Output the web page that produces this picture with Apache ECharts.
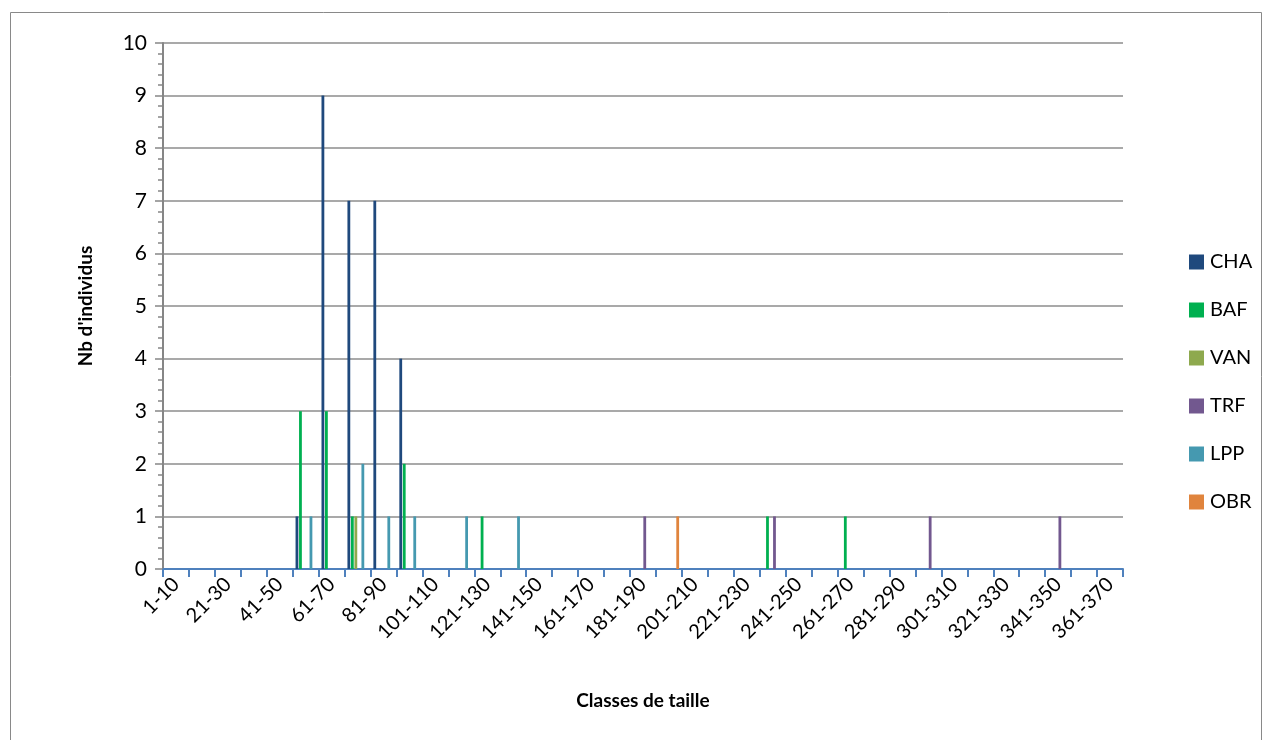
<!DOCTYPE html>
<html>
<head>
<meta charset="utf-8">
<script src="https://cdn.jsdelivr.net/npm/echarts@6/dist/echarts.min.js"></script>
<style>
html,body{margin:0;padding:0;background:#fff;}
#chart{width:1268px;height:740px;}
</style>
</head>
<body>
<div id="chart"></div>
<script>
const categories = ["1-10","11-20","21-30","31-40","41-50","51-60","61-70","71-80","81-90","91-100",
  "101-110","111-120","121-130","131-140","141-150","151-160","161-170","171-180","181-190","191-200",
  "201-210","211-220","221-230","231-240","241-250","251-260","261-270","271-280","281-290","291-300",
  "301-310","311-320","321-330","331-340","341-350","351-360","361-370"];
//                 1 11 21 31 41 51 61 71 81 91 101 111 121 131 141 151 161 171 181 191 201 211 221 231 241 251 261 271 281 291 301 311 321 331 341 351 361
const CHA = [0, 0, 0, 0, 0, 1, 9, 7, 7, 4, 0, 0, 0, 0, 0, 0, 0, 0, 0, 0, 0, 0, 0, 0, 0, 0, 0, 0, 0, 0, 0, 0, 0, 0, 0, 0, 0];
const BAF = [0, 0, 0, 0, 0, 3, 3, 1, 0, 2, 0, 0, 1, 0, 0, 0, 0, 0, 0, 0, 0, 0, 0, 1, 0, 0, 1, 0, 0, 0, 0, 0, 0, 0, 0, 0, 0];
const VAN = [0, 0, 0, 0, 0, 0, 0, 1, 0, 0, 0, 0, 0, 0, 0, 0, 0, 0, 0, 0, 0, 0, 0, 0, 0, 0, 0, 0, 0, 0, 0, 0, 0, 0, 0, 0, 0];
const TRF = [0, 0, 0, 0, 0, 0, 0, 0, 0, 0, 0, 0, 0, 0, 0, 0, 0, 0, 1, 0, 0, 0, 0, 1, 0, 0, 0, 0, 0, 1, 0, 0, 0, 0, 1, 0, 0];
const LPP = [0, 0, 0, 0, 0, 1, 0, 2, 1, 1, 0, 1, 0, 1, 0, 0, 0, 0, 0, 0, 0, 0, 0, 0, 0, 0, 0, 0, 0, 0, 0, 0, 0, 0, 0, 0, 0];
const OBR = [0, 0, 0, 0, 0, 0, 0, 0, 0, 0, 0, 0, 0, 0, 0, 0, 0, 0, 0, 1, 0, 0, 0, 0, 0, 0, 0, 0, 0, 0, 0, 0, 0, 0, 0, 0, 0];
const seriesNames = ["CHA","BAF","VAN","TRF","LPP","OBR"];
const seriesData = [CHA, BAF, VAN, TRF, LPP, OBR];
const colors = ["#1F497D","#00B050","#8EA94E","#72588F","#4599B0","#E0843D"];
const yTicks = [0,1,2,3,4,5,6,7,8,9,10];

const chart = echarts.init(document.getElementById('chart'));
const font = 'Lato, "Open Sans", sans-serif';
chart.setOption({
  animation: false,
  color: colors,
  graphic: [{
    type: 'rect', shape: {x: 10.5, y: 12.5, width: 1251, height: 740},
    style: {fill: 'none', stroke: '#898989', lineWidth: 1}, silent: true, z: -10
  }],
  grid: {left: 163, right: 145, top: 43, bottom: 171, containLabel: false},
  legend: {
    orient: 'vertical', left: 1184, top: 247,
    itemWidth: 15, itemHeight: 15, itemGap: 28,
    icon: 'rect',
    textStyle: {fontFamily: font, fontSize: 20, color: '#000', padding: [0,0,0,1]},
    data: seriesNames
  },
  xAxis: {
    type: 'category',
    data: categories,
    name: 'Classes de taille',
    nameLocation: 'middle',
    nameGap: 122,
    nameTextStyle: {fontFamily: font, fontSize: 19, fontWeight: 'bold', color: '#000'},
    axisLine: {lineStyle: {color: '#4F81BD', width: 2}},
    axisTick: {show: true, length: 8, lineStyle: {color: '#4F81BD', width: 2}, interval: 0},
    axisLabel: {
      interval: 1, rotate: 45, fontFamily: font, fontSize: 20, color: '#000', margin: 12
    }
  },
  yAxis: {
    type: 'value',
    min: 0, max: 10, interval: 1,
    name: "Nb d'individus",
    nameLocation: 'middle',
    nameGap: 68,
    nameRotate: 90,
    nameTextStyle: {fontFamily: font, fontSize: 19, fontWeight: 'bold', color: '#000'},
    axisLine: {show: true, lineStyle: {color: '#868686', width: 2}},
    axisTick: {show: true, length: 8, lineStyle: {color: '#868686', width: 1.5}},
    minorTick: {show: true, splitNumber: 5, length: 5, lineStyle: {color: '#868686', width: 1.5}},
    splitLine: {show: true, lineStyle: {color: '#8C8C8C', width: 1.5}},
    axisLabel: {
      fontFamily: font, fontSize: 21, color: '#000', margin: 16,
      formatter: v => yTicks.includes(v) ? String(v) : ''
    }
  },
  series: seriesNames.map((n, i) => ({
    name: n, type: 'bar', data: seriesData[i],
    barWidth: 2.8, barGap: '25%', barCategoryGap: '20%',
    itemStyle: {color: colors[i]}
  }))
});
</script>
</body>
</html>
